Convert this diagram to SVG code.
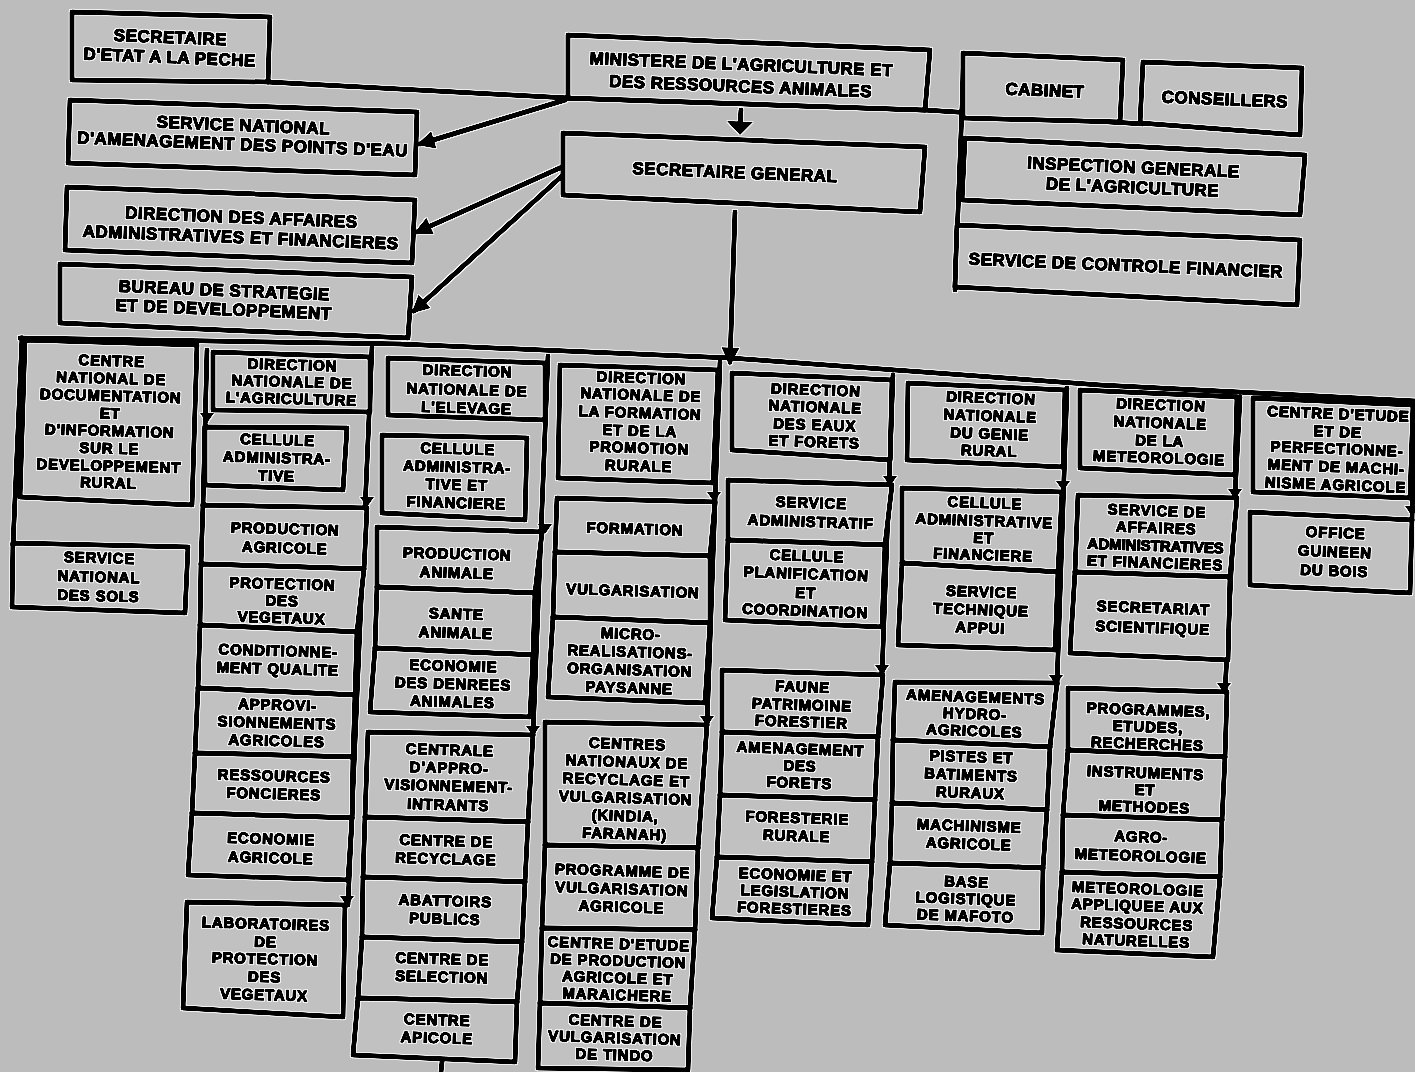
<svg xmlns="http://www.w3.org/2000/svg" width="1415" height="1072" viewBox="0 0 1415 1072">
<defs>
<style>
.bg{fill:#bcbcbc}
.box{fill:#c1c1c1;stroke:#000;stroke-width:5;stroke-linejoin:round}
.ln{fill:none;stroke:#000;stroke-width:5;stroke-linecap:round;stroke-linejoin:round}
text{font-family:"Liberation Sans",Arial,sans-serif;font-weight:bold;fill:#000;stroke:#000;stroke-width:1.4;stroke-linejoin:round;text-anchor:middle;dominant-baseline:central}
.t{font-size:17px;letter-spacing:0.5px}
.c{font-size:15px;letter-spacing:0.8px}
.n{letter-spacing:0}
</style>
<filter id="halo" filterUnits="userSpaceOnUse" x="0" y="0" width="1415" height="1072" color-interpolation-filters="sRGB">
<feColorMatrix in="SourceGraphic" type="matrix" values="0 0 0 0 0  0 0 0 0 0  0 0 0 0 0  -1.2 0 0 0 0.7" result="m"/>
<feComponentTransfer in="m" result="k"><feFuncA type="linear" slope="3" intercept="-0.5"/></feComponentTransfer>
<feMorphology in="k" operator="dilate" radius="1.3" result="d"/>
<feFlood flood-color="#f0f0f0"/>
<feComposite in2="d" operator="in" result="w"/>
<feMerge><feMergeNode in="SourceGraphic"/><feMergeNode in="w"/><feMergeNode in="k"/></feMerge>
</filter>
<marker id="ah" viewBox="0 0 10 10" refX="8" refY="5" markerWidth="20" markerHeight="18" markerUnits="userSpaceOnUse" orient="auto"><path d="M0,0 L10,5 L0,10 z"/></marker>
<path id="tri" d="M-7,-5 L7,-5 L0,5 z"/>
</defs>
<g filter="url(#halo)">
<rect class="bg" x="0" y="0" width="1415" height="1072"/>

<g id="connectors">
<polyline class="ln" points="268,82 568,98 925,110 1143,124"/>
<line class="ln" x1="964" y1="55" x2="955" y2="290"/>
<line class="ln" x1="565" y1="100" x2="420" y2="144" marker-end="url(#ah)"/>
<line class="ln" x1="562" y1="167" x2="417" y2="232" marker-end="url(#ah)"/>
<line class="ln" x1="563" y1="175" x2="414" y2="311" marker-end="url(#ah)"/>
<line class="ln" x1="741" y1="110" x2="740" y2="125"/>
<polygon points="727,121 753,122 740,135"/>
<line class="ln" x1="735" y1="212" x2="730" y2="362" marker-end="url(#ah)"/>
<polyline class="ln" points="20,338 400,344 730,358 1100,385 1415,401"/>
<line class="ln" x1="22" y1="338" x2="13" y2="545"/>
<line class="ln" x1="207" y1="350" x2="203" y2="505"/>
<line class="ln" x1="372" y1="347" x2="348" y2="905"/>
<line class="ln" x1="548" y1="356" x2="533" y2="735"/>
<line class="ln" x1="720" y1="362" x2="707" y2="725"/>
<line class="ln" x1="893" y1="375" x2="882" y2="675"/>
<line class="ln" x1="1067" y1="388" x2="1057" y2="685"/>
<line class="ln" x1="1240" y1="397" x2="1225" y2="692"/>
<line class="ln" x1="1414" y1="403" x2="1412" y2="520"/>
<line class="ln" x1="442" y1="1062" x2="441" y2="1072"/>
<use href="#tri" x="207" y="418"/>
<use href="#tri" x="367" y="502"/>
<use href="#tri" x="347" y="901"/>
<use href="#tri" x="545" y="529"/>
<use href="#tri" x="533" y="731"/>
<use href="#tri" x="714" y="497"/>
<use href="#tri" x="707" y="721"/>
<use href="#tri" x="890" y="481"/>
<use href="#tri" x="882" y="670"/>
<use href="#tri" x="1063" y="486"/>
<use href="#tri" x="1056" y="680"/>
<use href="#tri" x="1235" y="494"/>
<use href="#tri" x="1224" y="688"/>
<use href="#tri" x="1412" y="511"/>
</g>

<g id="n-peche"><polygon class="box" points="72,12 270,17 268,82 72,80"/>
<text class="t" transform="rotate(2.3 170 47)"><tspan x="170" y="37">SECRETAIRE</tspan><tspan x="170" y="57">D'ETAT A LA PECHE</tspan></text></g>
<g id="n-snape"><polygon class="box" points="70,100 417,112 415,175 68,163"/>
<text class="t" transform="rotate(2.3 243 134)"><tspan x="243" y="125">SERVICE NATIONAL</tspan><tspan x="243" y="144">D'AMENAGEMENT DES POINTS D'EAU</tspan></text></g>
<g id="n-daaf"><polygon class="box" points="67,187 415,200 412,263 65,250"/>
<text class="t" transform="rotate(2.3 241 227)"><tspan x="241" y="217">DIRECTION DES AFFAIRES</tspan><tspan x="241" y="237">ADMINISTRATIVES ET FINANCIERES</tspan></text></g>
<g id="n-bsd"><polygon class="box" points="60,264 412,277 408,338 60,323"/>
<text class="t" transform="rotate(2.3 224 299)"><tspan x="224" y="290">BUREAU DE STRATEGIE</tspan><tspan x="224" y="309">ET DE DEVELOPPEMENT</tspan></text></g>
<g id="n-min"><polygon class="box" points="568,35 930,50 925,110 568,98"/>
<text class="t" transform="rotate(2.3 741 75)"><tspan x="741" y="64">MINISTERE DE L'AGRICULTURE ET</tspan><tspan x="741" y="86">DES RESSOURCES ANIMALES</tspan></text></g>
<g id="n-sg"><polygon class="box" points="563,133 925,147 920,212 563,195"/>
<text class="t" transform="rotate(2.3 735 172)"><tspan x="735" y="172">SECRETAIRE GENERAL</tspan></text></g>
<g id="n-cab"><polygon class="box" points="963,53 1123,60 1120,122 963,118"/>
<text class="t" transform="rotate(2.3 1045 90)"><tspan x="1045" y="90">CABINET</tspan></text></g>
<g id="n-cons"><polygon class="box" points="1143,62 1302,68 1300,135 1140,123"/>
<text class="t" transform="rotate(2.3 1225 99)"><tspan x="1225" y="99">CONSEILLERS</tspan></text></g>
<g id="n-igs"><polygon class="box" points="965,138 1305,155 1300,215 962,200"/>
<text class="t" transform="rotate(2.4 1133 177)"><tspan x="1133" y="167">INSPECTION GENERALE</tspan><tspan x="1133" y="187">DE L'AGRICULTURE</tspan></text></g>
<g id="n-scf"><polygon class="box" points="957,225 1300,240 1297,305 955,287"/>
<text class="t" transform="rotate(2.4 1126 265)"><tspan x="1126" y="265">SERVICE DE CONTROLE FINANCIER</tspan></text></g>

<g id="n-cndi"><polygon class="box" points="25,340 197,345 192,505 20,497"/>
<text class="c" transform="rotate(1.6 110 421)"><tspan x="110" y="360">CENTRE</tspan><tspan x="110" y="377.5">NATIONAL DE</tspan><tspan x="110" y="395">DOCUMENTATION</tspan><tspan x="110" y="412.5">ET</tspan><tspan x="110" y="430">D'INFORMATION</tspan><tspan x="110" y="447.5">SUR LE</tspan><tspan x="110" y="465">DEVELOPPEMENT</tspan><tspan x="110" y="482">RURAL</tspan></text></g>
<g id="n-sns"><polygon class="box" points="13,543 188,547 185,613 12,607"/>
<text class="c" transform="rotate(1.6 99 576)"><tspan x="99" y="557">SERVICE</tspan><tspan x="99" y="576">NATIONAL</tspan><tspan x="99" y="595">DES SOLS</tspan></text></g>

<g id="n-dna"><polygon class="box" points="213,352 370,357 370,412 213,410"/>
<text class="c" transform="rotate(1.6 292 381)"><tspan x="292" y="364">DIRECTION</tspan><tspan x="292" y="381">NATIONALE DE</tspan><tspan x="292" y="398">L'AGRICULTURE</tspan></text></g>
<g id="n-dna-cel"><polygon class="box" points="205,427 347,428 343,490 205,485"/>
<text class="c" transform="rotate(1.6 277 457)"><tspan x="277" y="439">CELLULE</tspan><tspan x="277" y="457">ADMINISTRA-</tspan><tspan x="277" y="475">TIVE</tspan></text></g>
<g id="n-dna-pa"><polygon class="box" points="203,505 367,508 364,569 201,564"/>
<text class="c" transform="rotate(1.6 285 537)"><tspan x="285" y="528">PRODUCTION</tspan><tspan x="285" y="547">AGRICOLE</tspan></text></g>
<g id="n-dna-pv"><polygon class="box" points="201,564 364,569 357,632 200,625"/>
<text class="c" transform="rotate(1.6 282 600)"><tspan x="282" y="583">PROTECTION</tspan><tspan x="282" y="600">DES</tspan><tspan x="282" y="617">VEGETAUX</tspan></text></g>
<g id="n-dna-cq"><polygon class="box" points="200,625 357,632 355,695 198,688"/>
<text class="c" transform="rotate(1.6 278 659)"><tspan x="278" y="650">CONDITIONNE-</tspan><tspan x="278" y="668">MENT QUALITE</tspan></text></g>
<g id="n-dna-ap"><polygon class="box" points="198,688 355,695 353,757 195,753"/>
<text class="c" transform="rotate(1.6 277 722)"><tspan x="277" y="704">APPROVI-</tspan><tspan x="277" y="722">SIONNEMENTS</tspan><tspan x="277" y="740">AGRICOLES</tspan></text></g>
<g id="n-dna-rf"><polygon class="box" points="195,753 353,757 352,818 192,813"/>
<text class="c" transform="rotate(1.6 274 784)"><tspan x="274" y="775">RESSOURCES</tspan><tspan x="274" y="793">FONCIERES</tspan></text></g>
<g id="n-dna-ea"><polygon class="box" points="192,813 352,818 348,880 188,875"/>
<text class="c" transform="rotate(1.6 271 847)"><tspan x="271" y="838">ECONOMIE</tspan><tspan x="271" y="857">AGRICOLE</tspan></text></g>
<g id="n-dna-lab"><polygon class="box" points="187,902 345,905 343,1017 183,1008"/>
<text class="c" transform="rotate(1.6 265 958)"><tspan x="265" y="923">LABORATOIRES</tspan><tspan x="265" y="941">DE</tspan><tspan x="265" y="958">PROTECTION</tspan><tspan x="265" y="976">DES</tspan><tspan x="265" y="994">VEGETAUX</tspan></text></g>

<g id="n-dne"><polygon class="box" points="388,358 545,363 545,420 388,415"/>
<text class="c" transform="rotate(1.6 467 388)"><tspan x="467" y="370">DIRECTION</tspan><tspan x="467" y="389">NATIONALE DE</tspan><tspan x="467" y="407">L'ELEVAGE</tspan></text></g>
<g id="n-dne-cel"><polygon class="box" points="382,435 527,438 525,520 382,513"/>
<text class="c" transform="rotate(1.6 457 475)"><tspan x="457" y="448">CELLULE</tspan><tspan x="457" y="466">ADMINISTRA-</tspan><tspan x="457" y="484">TIVE ET</tspan><tspan x="457" y="502">FINANCIERE</tspan></text></g>
<g id="n-dne-pa"><polygon class="box" points="377,527 542,532 535,593 377,587"/>
<text class="c" transform="rotate(1.6 457 562)"><tspan x="457" y="553">PRODUCTION</tspan><tspan x="457" y="572">ANIMALE</tspan></text></g>
<g id="n-dne-sa"><polygon class="box" points="377,587 535,593 533,655 375,648"/>
<text class="c" transform="rotate(1.6 456 622)"><tspan x="456" y="613">SANTE</tspan><tspan x="456" y="632">ANIMALE</tspan></text></g>
<g id="n-dne-ed"><polygon class="box" points="375,648 533,655 530,717 370,712"/>
<text class="c" transform="rotate(1.6 453 683)"><tspan x="453" y="665">ECONOMIE</tspan><tspan x="453" y="683">DES DENREES</tspan><tspan x="453" y="701">ANIMALES</tspan></text></g>
<g id="n-dne-ca"><polygon class="box" points="368,732 533,735 528,822 365,817"/>
<text class="c" transform="rotate(1.6 449 776)"><tspan x="449" y="749">CENTRALE</tspan><tspan x="449" y="767">D'APPRO-</tspan><tspan x="449" y="785">VISIONNEMENT-</tspan><tspan x="449" y="804">INTRANTS</tspan></text></g>
<g id="n-dne-cr"><polygon class="box" points="365,817 528,822 525,882 363,877"/>
<text class="c" transform="rotate(1.6 446 849)"><tspan x="446" y="840">CENTRE DE</tspan><tspan x="446" y="858">RECYCLAGE</tspan></text></g>
<g id="n-dne-ab"><polygon class="box" points="363,877 525,882 522,942 362,937"/>
<text class="c" transform="rotate(1.6 445 909)"><tspan x="445" y="900">ABATTOIRS</tspan><tspan x="445" y="918">PUBLICS</tspan></text></g>
<g id="n-dne-cs"><polygon class="box" points="362,937 522,942 517,1002 358,998"/>
<text class="c" transform="rotate(1.6 442 967)"><tspan x="442" y="958">CENTRE DE</tspan><tspan x="442" y="976">SELECTION</tspan></text></g>
<g id="n-dne-capi"><polygon class="box" points="358,998 517,1002 515,1062 353,1055"/>
<text class="c" transform="rotate(1.6 437 1028)"><tspan x="437" y="1019">CENTRE</tspan><tspan x="437" y="1037">APICOLE</tspan></text></g>

<g id="n-dnf"><polygon class="box" points="560,365 718,370 713,483 558,478"/>
<text class="c" transform="rotate(1.8 640 420)"><tspan x="640" y="377">DIRECTION</tspan><tspan x="640" y="394">NATIONALE DE</tspan><tspan x="640" y="412">LA FORMATION</tspan><tspan x="640" y="430">ET DE LA</tspan><tspan x="640" y="447">PROMOTION</tspan><tspan x="640" y="465">RURALE</tspan></text></g>
<g id="n-dnf-for"><polygon class="box" points="557,498 715,502 710,556 555,552"/>
<text class="c" transform="rotate(1.8 635 528)"><tspan x="635" y="528">FORMATION</tspan></text></g>
<g id="n-dnf-vul"><polygon class="box" points="555,552 710,556 710,623 553,617"/>
<text class="c" transform="rotate(1.8 633 590)"><tspan x="633" y="590">VULGARISATION</tspan></text></g>
<g id="n-dnf-mic"><polygon class="box" points="553,617 710,623 705,703 548,697"/>
<text class="c" transform="rotate(1.8 630 660)"><tspan x="630" y="633">MICRO-</tspan><tspan x="630" y="651">REALISATIONS-</tspan><tspan x="630" y="669">ORGANISATION</tspan><tspan x="630" y="687">PAYSANNE</tspan></text></g>
<g id="n-dnf-cnr"><polygon class="box" points="545,722 707,725 698,848 545,845"/>
<text class="c" transform="rotate(1.8 626 789)"><tspan x="626" y="743">CENTRES</tspan><tspan x="626" y="761">NATIONAUX DE</tspan><tspan x="626" y="779">RECYCLAGE ET</tspan><tspan x="626" y="797">VULGARISATION</tspan><tspan x="626" y="815">(KINDIA,</tspan><tspan x="626" y="833">FARANAH)</tspan></text></g>
<g id="n-dnf-pva"><polygon class="box" points="545,845 698,848 695,930 542,928"/>
<text class="c" transform="rotate(1.8 622 888)"><tspan x="622" y="870">PROGRAMME DE</tspan><tspan x="622" y="888">VULGARISATION</tspan><tspan x="622" y="906">AGRICOLE</tspan></text></g>
<g id="n-dnf-cep"><polygon class="box" points="542,928 695,930 690,1008 540,1003"/>
<text class="c" transform="rotate(1.8 618 968)"><tspan x="618" y="943">CENTRE D'ETUDE</tspan><tspan x="618" y="960">DE PRODUCTION</tspan><tspan x="618" y="977">AGRICOLE ET</tspan><tspan x="618" y="994">MARAICHERE</tspan></text></g>
<g id="n-dnf-cvt"><polygon class="box" points="540,1003 690,1008 688,1070 538,1068"/>
<text class="c" transform="rotate(1.8 615 1037)"><tspan x="615" y="1020">CENTRE DE</tspan><tspan x="615" y="1037">VULGARISATION</tspan><tspan x="615" y="1054">DE TINDO</tspan></text></g>

<g id="n-def"><polygon class="box" points="732,373 892,380 890,460 732,450"/>
<text class="c" transform="rotate(2 815 415)"><tspan x="815" y="389">DIRECTION</tspan><tspan x="815" y="406">NATIONALE</tspan><tspan x="815" y="424">DES EAUX</tspan><tspan x="815" y="441">ET FORETS</tspan></text></g>
<g id="n-def-sa"><polygon class="box" points="728,480 892,485 885,545 728,540"/>
<text class="c" transform="rotate(2 811 512)"><tspan x="811" y="502">SERVICE</tspan><tspan x="811" y="521">ADMINISTRATIF</tspan></text></g>
<g id="n-def-cp"><polygon class="box" points="728,540 885,545 882,627 725,620"/>
<text class="c" transform="rotate(2 806 583)"><tspan x="806" y="555">CELLULE</tspan><tspan x="806" y="573">PLANIFICATION</tspan><tspan x="806" y="592">ET</tspan><tspan x="806" y="610">COORDINATION</tspan></text></g>
<g id="n-def-fa"><polygon class="box" points="722,670 883,675 878,737 722,732"/>
<text class="c" transform="rotate(2 802 704)"><tspan x="802" y="686">FAUNE</tspan><tspan x="802" y="704">PATRIMOINE</tspan><tspan x="802" y="721">FORESTIER</tspan></text></g>
<g id="n-def-af"><polygon class="box" points="722,732 878,737 875,800 720,795"/>
<text class="c" transform="rotate(2 800 765)"><tspan x="800" y="748">AMENAGEMENT</tspan><tspan x="800" y="765">DES</tspan><tspan x="800" y="782">FORETS</tspan></text></g>
<g id="n-def-fr"><polygon class="box" points="720,795 875,800 872,862 717,857"/>
<text class="c" transform="rotate(2 797 826)"><tspan x="797" y="817">FORESTERIE</tspan><tspan x="797" y="835">RURALE</tspan></text></g>
<g id="n-def-el"><polygon class="box" points="717,857 872,862 868,925 712,918"/>
<text class="c" transform="rotate(2 795 891)"><tspan x="795" y="874">ECONOMIE ET</tspan><tspan x="795" y="891">LEGISLATION</tspan><tspan x="795" y="908">FORESTIERES</tspan></text></g>

<g id="n-dgr"><polygon class="box" points="908,383 1065,390 1063,467 907,460"/>
<text class="c" transform="rotate(2 990 424)"><tspan x="990" y="397">DIRECTION</tspan><tspan x="990" y="415">NATIONALE</tspan><tspan x="990" y="433">DU GENIE</tspan><tspan x="990" y="450">RURAL</tspan></text></g>
<g id="n-dgr-cel"><polygon class="box" points="902,488 1062,492 1058,572 902,563"/>
<text class="c" transform="rotate(2 984 528)"><tspan x="984" y="502">CELLULE</tspan><tspan x="984" y="520">ADMINISTRATIVE</tspan><tspan x="984" y="537">ET</tspan><tspan x="984" y="554">FINANCIERE</tspan></text></g>
<g id="n-dgr-sta"><polygon class="box" points="902,563 1058,572 1055,650 898,645"/>
<text class="c" transform="rotate(2 981 609)"><tspan x="981" y="591">SERVICE</tspan><tspan x="981" y="609">TECHNIQUE</tspan><tspan x="981" y="627">APPUI</tspan></text></g>
<g id="n-dgr-aha"><polygon class="box" points="895,682 1057,683 1050,747 893,740"/>
<text class="c" transform="rotate(2 975 713)"><tspan x="975" y="696">AMENAGEMENTS</tspan><tspan x="975" y="713">HYDRO-</tspan><tspan x="975" y="730">AGRICOLES</tspan></text></g>
<g id="n-dgr-pbr"><polygon class="box" points="893,740 1050,747 1047,810 892,803"/>
<text class="c" transform="rotate(2 971 774)"><tspan x="971" y="756">PISTES ET</tspan><tspan x="971" y="774">BATIMENTS</tspan><tspan x="971" y="792">RURAUX</tspan></text></g>
<g id="n-dgr-ma"><polygon class="box" points="892,803 1047,810 1043,868 890,863"/>
<text class="c" transform="rotate(2 969 834)"><tspan x="969" y="825">MACHINISME</tspan><tspan x="969" y="843">AGRICOLE</tspan></text></g>
<g id="n-dgr-bl"><polygon class="box" points="890,863 1043,868 1042,933 885,925"/>
<text class="c" transform="rotate(2 966 898)"><tspan x="966" y="881">BASE</tspan><tspan x="966" y="898">LOGISTIQUE</tspan><tspan x="966" y="915">DE MAFOTO</tspan></text></g>

<g id="n-dnm"><polygon class="box" points="1080,390 1237,397 1235,475 1080,468"/>
<text class="c" transform="rotate(2 1160 431)"><tspan x="1160" y="404">DIRECTION</tspan><tspan x="1160" y="422">NATIONALE</tspan><tspan x="1160" y="440">DE LA</tspan><tspan x="1160" y="457">METEOROLOGIE</tspan></text></g>
<g id="n-dnm-saaf"><polygon class="box" points="1078,495 1237,498 1230,577 1075,572"/>
<text class="c" transform="rotate(2 1156 536)"><tspan x="1156" y="510">SERVICE DE</tspan><tspan x="1156" y="527">AFFAIRES</tspan><tspan class="n" x="1156" y="545">ADMINISTRATIVES</tspan><tspan x="1156" y="562">ET FINANCIERES</tspan></text></g>
<g id="n-dnm-ss"><polygon class="box" points="1075,572 1230,577 1228,660 1070,653"/>
<text class="c" transform="rotate(2 1153 617)"><tspan x="1153" y="607">SECRETARIAT</tspan><tspan x="1153" y="627">SCIENTIFIQUE</tspan></text></g>
<g id="n-dnm-per"><polygon class="box" points="1068,688 1227,692 1225,757 1068,750"/>
<text class="c" transform="rotate(2 1148 726)"><tspan x="1148" y="709">PROGRAMMES,</tspan><tspan x="1148" y="726">ETUDES,</tspan><tspan x="1148" y="743">RECHERCHES</tspan></text></g>
<g id="n-dnm-im"><polygon class="box" points="1068,750 1225,757 1222,820 1063,815"/>
<text class="c" transform="rotate(2 1145 789)"><tspan x="1145" y="772">INSTRUMENTS</tspan><tspan x="1145" y="789">ET</tspan><tspan x="1145" y="806">METHODES</tspan></text></g>
<g id="n-dnm-agro"><polygon class="box" points="1063,815 1222,820 1220,877 1062,872"/>
<text class="c" transform="rotate(2 1141 846)"><tspan x="1141" y="836">AGRO-</tspan><tspan x="1141" y="855">METEOROLOGIE</tspan></text></g>
<g id="n-dnm-marn"><polygon class="box" points="1062,872 1220,877 1213,957 1057,950"/>
<text class="c" transform="rotate(2 1137 914)"><tspan x="1137" y="888">METEOROLOGIE</tspan><tspan x="1137" y="905">APPLIQUEE AUX</tspan><tspan x="1137" y="923">RESSOURCES</tspan><tspan x="1137" y="940">NATURELLES</tspan></text></g>

<g id="n-cepma"><polygon class="box" points="1253,398 1413,405 1410,498 1253,492"/>
<text class="c" transform="rotate(2.2 1337 448)"><tspan x="1337" y="413">CENTRE D'ETUDE</tspan><tspan x="1337" y="431">ET DE</tspan><tspan x="1337" y="448">PERFECTIONNE-</tspan><tspan x="1337" y="466">MENT DE MACHI-</tspan><tspan x="1337" y="484">NISME AGRICOLE</tspan></text></g>
<g id="n-ogb"><polygon class="box" points="1250,512 1412,520 1410,593 1250,585"/>
<text class="c" transform="rotate(2.2 1335 551)"><tspan x="1335" y="532">OFFICE</tspan><tspan x="1335" y="551">GUINEEN</tspan><tspan x="1335" y="570">DU BOIS</tspan></text></g>
</g>
</svg>
